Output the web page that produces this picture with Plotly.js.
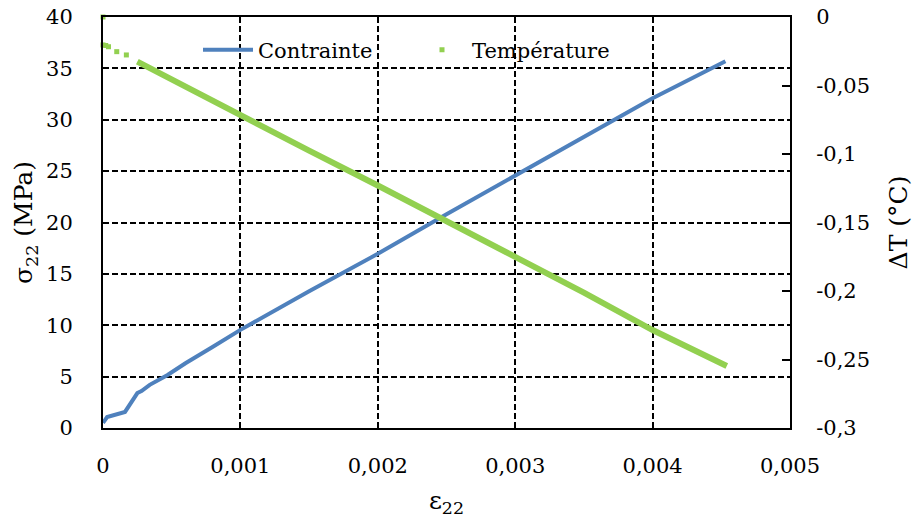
<!DOCTYPE html>
<html>
<head>
<meta charset="utf-8">
<script src="https://cdn.plot.ly/plotly-3.0.1.min.js"></script>
<style>html,body{margin:0;padding:0;background:#fff;}#chart{width:919px;height:527px;}</style>
</head>
<body>
<div id="chart"></div>
<script>
// Contrainte (stress, MPa) vs strain
const stressX = [0, 0.00003, 0.00016, 0.00022, 0.00025, 0.00028, 0.00034, 0.00047, 0.0006, 0.0008, 0.001, 0.0015, 0.002, 0.0025, 0.003, 0.0035, 0.004, 0.00453];
const stressY = [0.5, 1.07, 1.56, 2.75, 3.4, 3.6, 4.2, 5.16, 6.3, 7.9, 9.55, 13.3, 16.95, 20.8, 24.6, 28.3, 32.1, 35.7];

// Température (ΔT, °C) vs strain: sparse early points, then dense band
const tempSparseX = [0, 0, 0.00002, 0.00004, 0.0001, 0.00017];
const tempSparseY = [0, -0.0204, -0.0208, -0.0217, -0.0253, -0.0277];
const tempX = [0.00025, 0.0005, 0.001, 0.0015, 0.002, 0.0025, 0.003, 0.0035, 0.004, 0.00454];
const tempY = [-0.0326, -0.0458, -0.0715, -0.0975, -0.1230, -0.1490, -0.1752, -0.2012, -0.2285, -0.2547];

// Ticks
const strainTicks = [0, 0.001, 0.002, 0.003, 0.004, 0.005];
const strainTickText = ['0', '0,001', '0,002', '0,003', '0,004', '0,005'];
const stressTicks = [0, 5, 10, 15, 20, 25, 30, 35, 40];
const stressTickText = ['0', '5', '10', '15', '20', '25', '30', '35', '40'];
const tempTicks = [0, -0.05, -0.1, -0.15, -0.2, -0.25, -0.3];
const tempTickText = ['0', '-0,05', '-0,1', '-0,15', '-0,2', '-0,25', '-0,3'];

const FONT = 'DejaVu Serif, Liberation Serif, serif';
const BLUE = '#4F81BD';
const GREEN = '#92D050';

const traces = [
  {x: tempX, y: tempY, yaxis: 'y2', mode: 'lines', line: {color: GREEN, width: 6}, showlegend: false, hoverinfo: 'skip'},
  {x: tempSparseX, y: tempSparseY, yaxis: 'y2', mode: 'markers', name: 'Température', cliponaxis: false,
   marker: {color: GREEN, symbol: 'square', size: 5}, legend: 'legend2'},
  {x: stressX, y: stressY, mode: 'lines', name: 'Contrainte', line: {color: BLUE, width: 4}, legend: 'legend'}
];

const gridStyle = {showgrid: true, gridcolor: '#000', gridwidth: 2, griddash: '6px,3px'};

const layout = {
  width: 919, height: 527,
  margin: {l: 103, r: 129, t: 17, b: 99},
  paper_bgcolor: '#fff', plot_bgcolor: '#fff',
  font: {family: FONT, size: 21, color: '#000'},
  separators: ', ',
  xaxis: Object.assign({
    range: [0, 0.005], tickvals: strainTicks, ticktext: strainTickText,
    showline: true, linecolor: '#000', linewidth: 2, mirror: true,
    zeroline: false, ticks: '', ticklabelstandoff: 18,
    tickfont: {family: FONT, size: 21},
    title: {text: 'ε<sub>22</sub>', font: {family: FONT, size: 25}, standoff: 14}
  }, gridStyle),
  yaxis: Object.assign({
    range: [0, 40], tickvals: stressTicks, ticktext: stressTickText,
    showline: true, linecolor: '#000', linewidth: 2,
    zeroline: false, ticks: '', ticklabelstandoff: 24,
    tickfont: {family: FONT, size: 21},
    title: {text: 'σ<sub>22</sub> (MPa)', font: {family: FONT, size: 25}, standoff: 6}
  }, gridStyle),
  yaxis2: {
    overlaying: 'y', side: 'right', range: [-0.3, 0],
    tickvals: tempTicks, ticktext: tempTickText,
    showgrid: false, zeroline: false,
    showline: true, linecolor: '#000', linewidth: 2,
    ticks: 'inside', ticklen: 8, tickwidth: 2, tickcolor: '#000', ticklabelstandoff: 20,
    tickfont: {family: FONT, size: 21},
    title: {text: 'ΔT (°C)', font: {family: FONT, size: 25}, standoff: 20}
  },
  legend: {x: (198 - 103) / 687, y: (428 - 50) / 411, xanchor: 'left', yanchor: 'middle',
           bgcolor: 'rgba(0,0,0,0)', borderwidth: 0, font: {family: FONT, size: 21}, itemwidth: 50},
  legend2: {x: (412 - 103) / 687, y: (428 - 50) / 411, xanchor: 'left', yanchor: 'middle',
            bgcolor: 'rgba(0,0,0,0)', borderwidth: 0, font: {family: FONT, size: 21}, itemwidth: 50}
};

Plotly.newPlot('chart', traces, layout, {staticPlot: true, displayModeBar: false});
</script>
</body>
</html>
